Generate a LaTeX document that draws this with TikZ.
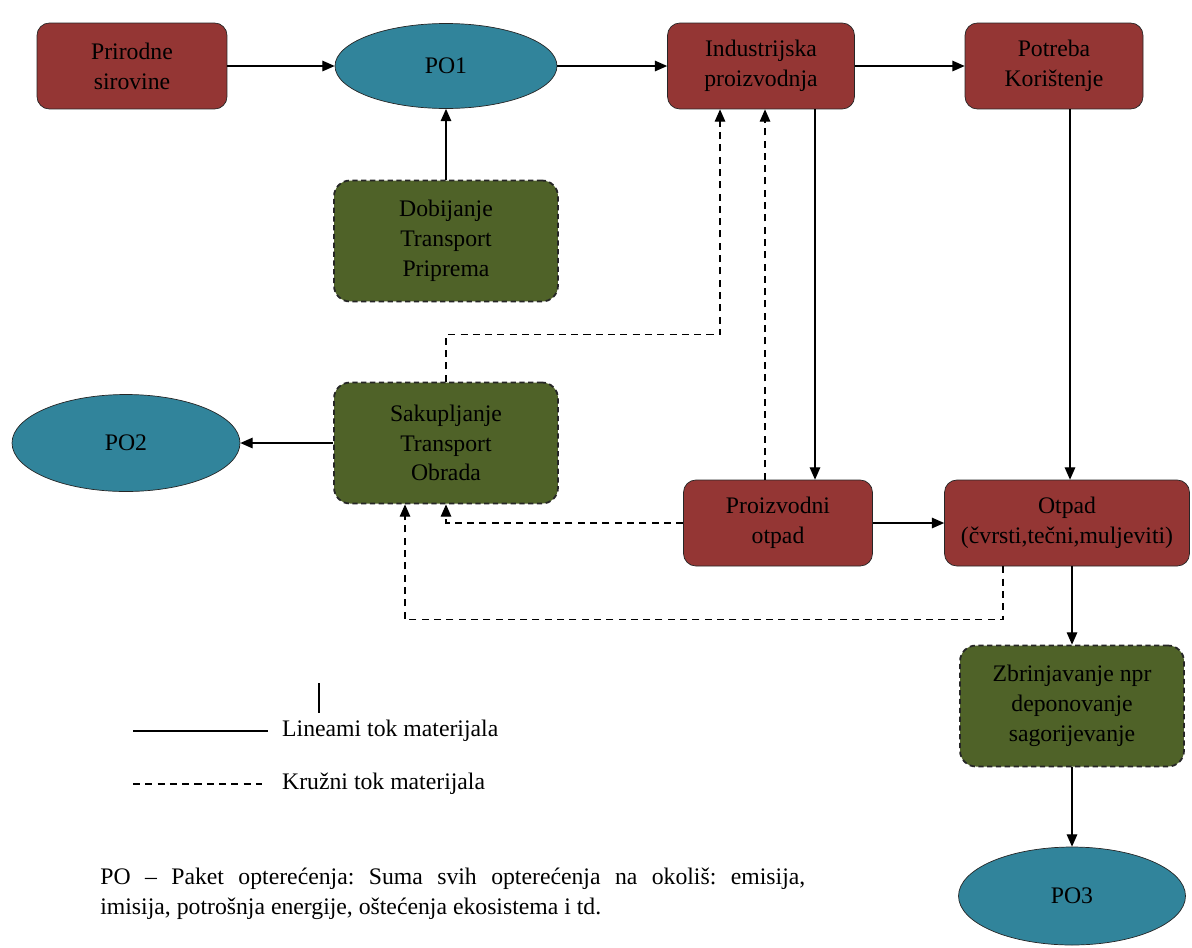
\documentclass[tikz,border=0pt]{standalone}
\usepackage{fontspec}
\setmainfont{Liberation Serif}
\usetikzlibrary{shapes.geometric, arrows.meta}
\definecolor{brick}{HTML}{943634}
\definecolor{moss}{HTML}{4F6228}
\definecolor{poblue}{HTML}{31849B}
\tikzset{
    redbox/.style={draw=black!85, fill=brick, rounded corners=7pt, align=center, minimum height=1.72cm, inner sep=2pt},
    greenbox/.style={draw=black!85, fill=moss, line width=1pt, dash pattern=on 3pt off 2pt, rounded corners=9pt, align=center, minimum width=4.48cm, minimum height=2.42cm},
    po/.style={draw=black!85, fill=poblue, ellipse, inner sep=0pt},
    flow/.style={line width=0.7pt, -{Triangle[length=7pt,width=6pt]}},
    circflow/.style={flow, dash pattern=on 4pt off 3pt}
}
\begin{document}
\frenchspacing
\begin{tikzpicture}[x=0.02cm, y=-0.02cm, font=\fontsize{13.5}{17}\selectfont]
  \useasboundingbox (0,0) rectangle (1192,947);
  \node [redbox, minimum width=3.8cm] (prir) at (132,66) {Prirodne\\sirovine};
  \node [po, minimum width=4.44cm, minimum height=1.7cm] (po1) at (446,66) {PO1};
  \node [redbox, minimum width=3.74cm] (ind) at (761,66) {Industrijska\\proizvodnja};
  \node [redbox, minimum width=3.56cm] (pot) at (1054,66) {Potreba\\Korištenje};
  \node [greenbox] (dob) at (446,241) {Dobijanje\\Transport\\Priprema};
  \node [greenbox] (sak) at (446,443) {Sakupljanje\\Transport\\Obrada};
  \node [po, minimum width=4.56cm, minimum height=1.94cm] (po2) at (126,443) {PO2};
  \node [redbox, minimum width=3.78cm] (proiz) at (778,523) {Proizvodni\\otpad};
  \node [redbox, minimum width=4.9cm] (otp) at (1067,523) {Otpad\\(čvrsti,tečni,muljeviti)};
  \node [greenbox] (zbr) at (1072,706) {Zbrinjavanje npr\\deponovanje\\sagorijevanje};
  \node [po, minimum width=4.54cm, minimum height=1.96cm] (po3) at (1072,896) {PO3};

  \draw [flow] (prir) -- (po1);
  \draw [flow] (po1) -- (ind);
  \draw [flow] (ind) -- (pot);
  \draw [flow] (dob) -- (po1);
  \draw [flow] ([xshift=1.08cm]ind.south) -- ([xshift=1.08cm]ind.south |- proiz.north);
  \draw [flow] ([xshift=0.32cm]pot.south) -- ([xshift=0.32cm]pot.south |- otp.north);
  \draw [flow] (proiz) -- (otp);
  \draw [flow] (otp.south -| zbr.north) -- (zbr.north);
  \draw [flow] (zbr) -- (po3);
  \draw [flow] (sak) -- (po2);
  \draw [circflow] ([xshift=-0.26cm]proiz.north) -- ([xshift=-0.26cm]proiz.north |- ind.south);
  \draw [circflow] (sak.north) -- ++(0,-47) -| ([xshift=-0.82cm]ind.south);
  \draw [circflow] (proiz.west) -| (sak.south);
  \draw [circflow] ([xshift=-1.28cm]otp.south) -- ++(0,53) -| ([xshift=-0.82cm]sak.south);

  \draw [line width=1.7pt] (319,683) -- (319,713);
  \draw [line width=0.7pt] (133,731) -- (268,731);
  \node [anchor=west] (lin) at (276,731) {Lineami tok materijala};
  \draw [line width=0.7pt, dash pattern=on 4pt off 3pt] (133,784) -- (262,784);
  \node [anchor=west] (kru) at (276,784) {Kružni tok materijala};
  \node [anchor=north west, text width=14.1cm, align=justify, inner sep=0pt] (note) at (100,868)
    {PO – Paket opterećenja: Suma svih opterećenja na okoliš: emisija,\linebreak imisija, potrošnja energije, oštećenja ekosistema i td.};
\end{tikzpicture}
\end{document}
